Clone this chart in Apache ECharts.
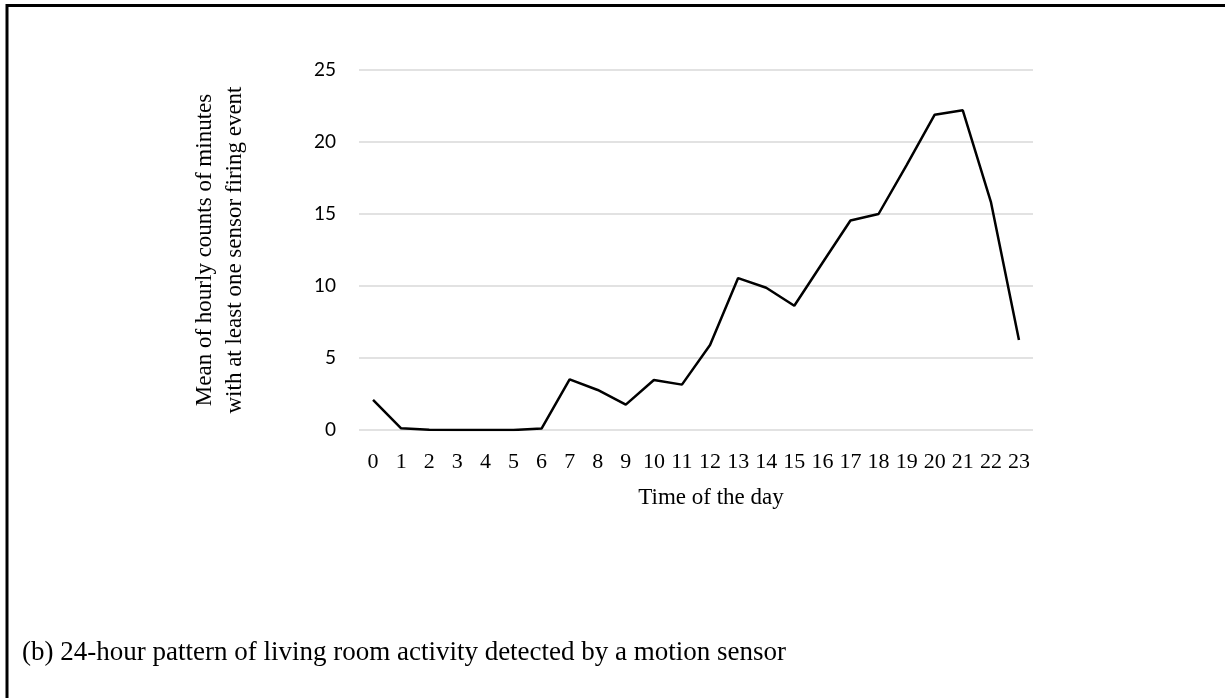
<!DOCTYPE html>
<html>
<head>
<meta charset="utf-8">
<script src="https://cdn.jsdelivr.net/npm/echarts@6/dist/echarts.min.js"></script>
<style>
  html, body { margin: 0; padding: 0; background: #fff; }
  #chart { width: 1225px; height: 698px; }
</style>
</head>
<body>
<div id="chart"></div>
<script>
// hours of the day
const hours = ['0','1','2','3','4','5','6','7','8','9','10','11','12','13','14','15','16','17','18','19','20','21','22','23'];
// mean hourly counts of minutes with at least one firing event
const activity = [2.1, 0.12, 0.02, 0.0, 0.0, 0.0, 0.1, 3.52, 2.78, 1.76, 3.47, 3.15, 5.9, 10.55, 9.88, 8.63, 11.6, 14.55, 15.0, 18.4, 21.9, 22.2, 15.85, 6.25];
const yTicks = [0, 5, 10, 15, 20, 25];

const chart = echarts.init(document.getElementById('chart'));

const option = {
  animation: false,
  grid: { left: 359, right: 192, top: 70, bottom: 268, containLabel: false },
  xAxis: {
    type: 'category',
    data: hours,
    boundaryGap: true,
    axisLine: { show: false },
    axisTick: { show: false },
    axisLabel: {
      interval: 0,
      margin: 21,
      fontFamily: 'Liberation Serif',
      fontSize: 22,
      color: '#000'
    },
    name: 'Time of the day',
    nameLocation: 'middle',
    nameGap: 56,
    nameTextStyle: {
      fontFamily: 'Liberation Serif',
      fontSize: 23,
      color: '#000',
      padding: [0, 0, 0, 30]
    }
  },
  yAxis: {
    type: 'value',
    min: yTicks[0],
    max: yTicks[yTicks.length - 1],
    interval: 5,
    axisLine: { show: false },
    axisTick: { show: false },
    splitLine: { lineStyle: { color: '#d9d9d9', width: 1.5 } },
    axisLabel: {
      margin: 23,
      fontFamily: 'Lato',
      fontSize: 19,
      color: '#000'
    },
    name: 'Mean of hourly counts of minutes\nwith at least one sensor firing event',
    nameLocation: 'middle',
    nameGap: 109,
    nameTextStyle: {
      fontFamily: 'Liberation Serif',
      fontSize: 23,
      lineHeight: 30,
      color: '#000'
    }
  },
  series: [{
    type: 'line',
    data: activity,
    symbol: 'none',
    lineStyle: { color: '#000', width: 2.5 }
  }],
  graphic: [
    { type: 'line', shape: { x1: 7, y1: 5.5, x2: 1225, y2: 5.5 }, style: { stroke: '#000', lineWidth: 3 } },
    { type: 'line', shape: { x1: 7, y1: 4, x2: 7, y2: 698 }, style: { stroke: '#000', lineWidth: 3 } },
    {
      type: 'text',
      left: 22,
      top: 639,
      style: {
        text: '(b) 24-hour pattern of living room activity detected by a motion sensor',
        fontFamily: 'Liberation Serif',
        fontSize: 27,
        fill: '#000'
      }
    }
  ]
};

chart.setOption(option);
</script>
</body>
</html>
